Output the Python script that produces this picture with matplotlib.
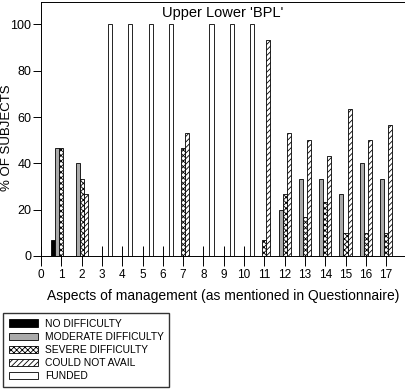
import numpy as np
import matplotlib
matplotlib.use('Agg')
from matplotlib import pyplot as plt

plt.rcParams['font.family'] = ['Liberation Sans', 'DejaVu Sans']
plt.rcParams['hatch.linewidth'] = 0.6

# aspects of management 0..17
aspects = list(range(0, 18))
no_difficulty = [0, 6.7, 0, 0, 0, 0, 0, 0, 0, 0, 0, 0, 0, 0, 0, 0, 0, 0]
moderate = [0, 46.7, 40, 0, 0, 0, 0, 0, 0, 0, 0, 0, 20, 33.3, 33.3, 26.7, 40, 33.3]
severe = [0, 46.7, 33.3, 0, 0, 0, 0, 46.7, 0, 0, 0, 6.7, 26.7, 16.7, 23.3, 10, 10, 10]
not_avail = [0, 0, 26.7, 0, 0, 0, 0, 53.3, 0, 0, 0, 93.3, 53.3, 50, 43.3, 63.3, 50, 56.7]
funded = [0, 0, 0, 100, 100, 100, 100, 0, 100, 100, 100, 0, 0, 0, 0, 0, 0, 0]

series = [no_difficulty, moderate, severe, not_avail, funded]
labels = ['NO DIFFICULTY', 'MODERATE DIFFICULTY', 'SEVERE DIFFICULTY',
          'COULD NOT AVAIL', 'FUNDED']
colors = ['black', '#aaaaaa', 'white', 'white', 'white']
hatches = [None, None, 'xxxxxx', '//////', None]

fig = plt.figure(figsize=(4.06, 3.91), dpi=100)
ax = fig.add_axes([41/406, 1-256/391, 364/406, 254/391])
ax.set_axisbelow(True)

x = np.array(aspects)
w = 0.2
handles = []
for i, vals in enumerate(series):
    h = ax.bar(x + (i - 2) * w, vals, w, color=colors[i], edgecolor='black',
               linewidth=0.6, hatch=hatches[i], label=labels[i], zorder=2)
    handles.append(h)

ax.set_xlim(0, 17.93)
ax.set_ylim(0, 109.7)
ax.set_xticks(aspects)
ax.set_yticks([0, 20, 40, 60, 80, 100])
ax.tick_params(axis='x', direction='inout', length=14, width=0.7, labelsize=8.5, pad=2)
ax.tick_params(axis='y', direction='out', length=5.5, width=0.7, labelsize=9, pad=1.5)
for s in ax.spines.values():
    s.set_linewidth(0.7)

ax.set_xlabel('Aspects of management (as mentioned in Questionnaire)', fontsize=10, labelpad=6)
fig.text(7/406, 1-138/391, '% OF SUBJECTS', rotation=90, ha='center', va='center',
         fontsize=9.5)
ax.text(0.5, 0.985, "Upper Lower 'BPL'", transform=ax.transAxes, ha='center',
        va='top', fontsize=10.5)

fig.legend(handles=handles, loc='upper left', bbox_to_anchor=(3/406, 1-313/391),
           fontsize=7.4, frameon=True, fancybox=False, edgecolor='black',
           handlelength=2.9, handleheight=0.7, labelspacing=0.3,
           borderpad=0.55, handletextpad=0.6, borderaxespad=0)

fig.savefig('out.png', dpi=100)
